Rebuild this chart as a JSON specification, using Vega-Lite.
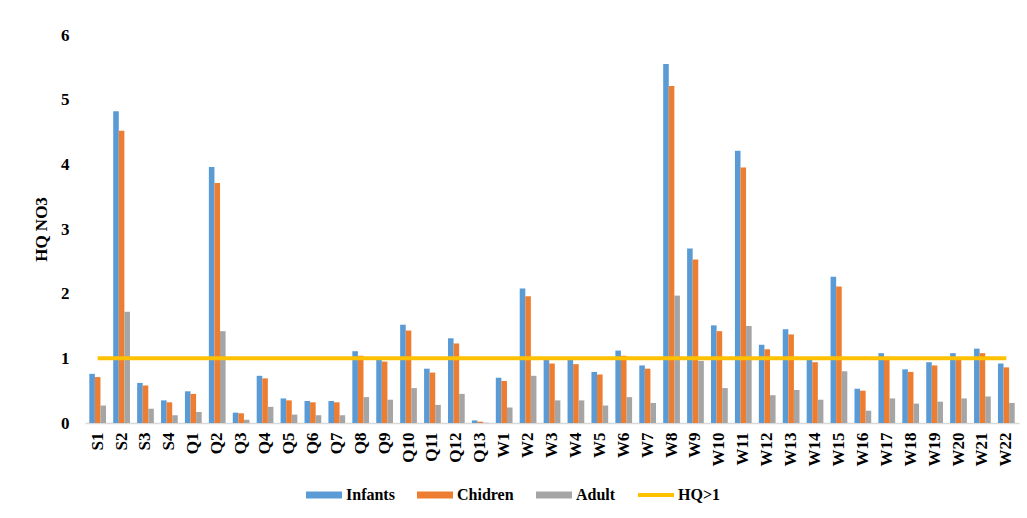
{
  "$schema": "https://vega.github.io/schema/vega-lite/v6.json",
  "autosize": "none",
  "width": 934,
  "height": 388,
  "padding": {"left": 85, "top": 35, "right": 8, "bottom": 95},
  "background": "white",
  "config": {
    "view": {"stroke": null},
    "font": "Liberation Serif"
  },
  "data": {
    "values": [
      {"site": "S1", "Infants": 0.76, "Chidren": 0.71, "Adult": 0.27, "HQ": 1},
      {"site": "S2", "Infants": 4.82, "Chidren": 4.52, "Adult": 1.72, "HQ": 1},
      {"site": "S3", "Infants": 0.62, "Chidren": 0.58, "Adult": 0.22, "HQ": 1},
      {"site": "S4", "Infants": 0.35, "Chidren": 0.32, "Adult": 0.12, "HQ": 1},
      {"site": "Q1", "Infants": 0.49, "Chidren": 0.45, "Adult": 0.17, "HQ": 1},
      {"site": "Q2", "Infants": 3.96, "Chidren": 3.71, "Adult": 1.42, "HQ": 1},
      {"site": "Q3", "Infants": 0.16, "Chidren": 0.15, "Adult": 0.05, "HQ": 1},
      {"site": "Q4", "Infants": 0.73, "Chidren": 0.69, "Adult": 0.25, "HQ": 1},
      {"site": "Q5", "Infants": 0.38, "Chidren": 0.35, "Adult": 0.13, "HQ": 1},
      {"site": "Q6", "Infants": 0.34, "Chidren": 0.32, "Adult": 0.12, "HQ": 1},
      {"site": "Q7", "Infants": 0.34, "Chidren": 0.32, "Adult": 0.12, "HQ": 1},
      {"site": "Q8", "Infants": 1.11, "Chidren": 1.04, "Adult": 0.40, "HQ": 1},
      {"site": "Q9", "Infants": 0.98, "Chidren": 0.95, "Adult": 0.36, "HQ": 1},
      {"site": "Q10", "Infants": 1.52, "Chidren": 1.43, "Adult": 0.54, "HQ": 1},
      {"site": "Q11", "Infants": 0.84, "Chidren": 0.78, "Adult": 0.28, "HQ": 1},
      {"site": "Q12", "Infants": 1.31, "Chidren": 1.23, "Adult": 0.45, "HQ": 1},
      {"site": "Q13", "Infants": 0.04, "Chidren": 0.02, "Adult": 0.005, "HQ": 1},
      {"site": "W1", "Infants": 0.70, "Chidren": 0.65, "Adult": 0.24, "HQ": 1},
      {"site": "W2", "Infants": 2.08, "Chidren": 1.96, "Adult": 0.73, "HQ": 1},
      {"site": "W3", "Infants": 0.98, "Chidren": 0.92, "Adult": 0.35, "HQ": 1},
      {"site": "W4", "Infants": 0.98, "Chidren": 0.91, "Adult": 0.35, "HQ": 1},
      {"site": "W5", "Infants": 0.79, "Chidren": 0.75, "Adult": 0.27, "HQ": 1},
      {"site": "W6", "Infants": 1.12, "Chidren": 1.04, "Adult": 0.40, "HQ": 1},
      {"site": "W7", "Infants": 0.89, "Chidren": 0.84, "Adult": 0.31, "HQ": 1},
      {"site": "W8", "Infants": 5.55, "Chidren": 5.21, "Adult": 1.97, "HQ": 1},
      {"site": "W9", "Infants": 2.70, "Chidren": 2.53, "Adult": 0.96, "HQ": 1},
      {"site": "W10", "Infants": 1.51, "Chidren": 1.42, "Adult": 0.54, "HQ": 1},
      {"site": "W11", "Infants": 4.21, "Chidren": 3.95, "Adult": 1.50, "HQ": 1},
      {"site": "W12", "Infants": 1.21, "Chidren": 1.14, "Adult": 0.43, "HQ": 1},
      {"site": "W13", "Infants": 1.45, "Chidren": 1.37, "Adult": 0.51, "HQ": 1},
      {"site": "W14", "Infants": 0.98, "Chidren": 0.94, "Adult": 0.36, "HQ": 1},
      {"site": "W15", "Infants": 2.26, "Chidren": 2.11, "Adult": 0.80, "HQ": 1},
      {"site": "W16", "Infants": 0.53, "Chidren": 0.50, "Adult": 0.19, "HQ": 1},
      {"site": "W17", "Infants": 1.08, "Chidren": 0.99, "Adult": 0.38, "HQ": 1},
      {"site": "W18", "Infants": 0.83, "Chidren": 0.79, "Adult": 0.30, "HQ": 1},
      {"site": "W19", "Infants": 0.94, "Chidren": 0.89, "Adult": 0.33, "HQ": 1},
      {"site": "W20", "Infants": 1.08, "Chidren": 0.99, "Adult": 0.38, "HQ": 1},
      {"site": "W21", "Infants": 1.15, "Chidren": 1.08, "Adult": 0.41, "HQ": 1},
      {"site": "W22", "Infants": 0.92, "Chidren": 0.86, "Adult": 0.31, "HQ": 1}
    ]
  },
  "encoding": {
    "x": {
      "field": "site",
      "type": "nominal",
      "sort": null,
      "scale": {"paddingInner": 0.3, "paddingOuter": 0.18},
      "axis": {
        "title": null,
        "labelAngle": -90,
        "labelFont": "Liberation Serif",
        "labelFontSize": 17,
        "labelFontWeight": "bold",
        "labelColor": "#000000",
        "labelPadding": 9,
        "ticks": false,
        "domainColor": "#D9D9D9",
        "domainWidth": 1.5
      }
    }
  },
  "layer": [
    {
      "transform": [{"fold": ["Infants", "Chidren", "Adult"], "as": ["group", "value"]}],
      "mark": {"type": "bar"},
      "encoding": {
        "y": {
          "field": "value",
          "type": "quantitative",
          "scale": {"domain": [0, 6], "nice": false},
          "axis": {
            "title": "HQ NO3",
            "titleFont": "Liberation Serif",
            "titleFontSize": 17,
            "titleFontWeight": "bold",
            "titleColor": "#000000",
            "titlePadding": 10,
            "values": [0, 1, 2, 3, 4, 5, 6],
            "format": "d",
            "labelFont": "Liberation Serif",
            "labelFontSize": 17,
            "labelFontWeight": "bold",
            "labelColor": "#000000",
            "labelPadding": 16,
            "grid": false,
            "domain": false,
            "ticks": false
          }
        },
        "xOffset": {"field": "group", "type": "nominal", "sort": ["Infants", "Chidren", "Adult"]},
        "color": {
          "field": "group",
          "type": "nominal",
          "scale": {
            "domain": ["Infants", "Chidren", "Adult", "HQ>1"],
            "range": ["#5B9BD5", "#ED7D31", "#A5A5A5", "#FFC000"]
          },
          "legend": {
            "title": null,
            "orient": "none",
            "legendX": 221,
            "legendY": 442,
            "direction": "horizontal",
            "labelFont": "Liberation Serif",
            "labelFontSize": 16,
            "labelFontWeight": "bold",
            "labelColor": "#000000",
            "symbolSize": 324,
            "symbolStrokeWidth": 0,
            "columnPadding": 22,
            "labelOffset": 4,
            "encode": {
              "symbols": {
                "update": {
                  "shape": {"signal": "datum.value === 'HQ>1' ? 'M-1,-0.11H1V0.11H-1Z' : 'M-1,-0.2H1V0.2H-1Z'"},
                  "size": {"value": 1296}
                }
              }
            }
          }
        }
      }
    },
    {
      "mark": {"type": "line", "color": "#FFC000", "strokeWidth": 4},
      "encoding": {
        "y": {"field": "HQ", "type": "quantitative"}
      }
    }
  ]
}
